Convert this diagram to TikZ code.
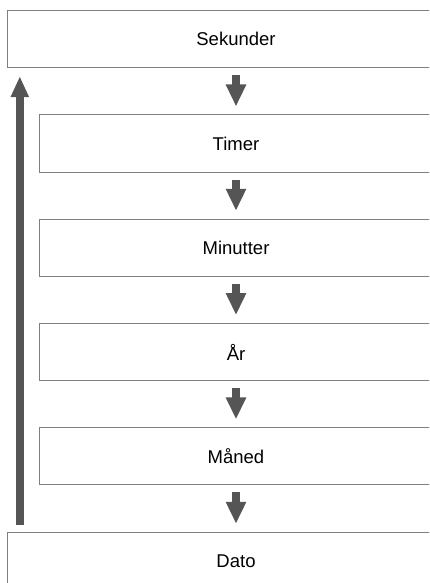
\documentclass[tikz,border=0pt]{standalone}
\usepackage{fontspec}
\setmainfont{Liberation Sans}
\usetikzlibrary{arrows.meta}

\definecolor{boxgray}{HTML}{7F7F7F}
\definecolor{arrowgray}{HTML}{555555}

\begin{document}
\begin{tikzpicture}[x=1pt,y=-1pt,
    outerbox/.style={draw=boxgray,line width=1pt,minimum width=458pt,minimum height=57pt,inner sep=0pt,font=\fontsize{18.5}{22}\selectfont},
    innerbox/.style={outerbox,minimum width=394pt},
    downarrow/.style={draw=arrowgray,line width=8.5pt,-{Triangle[length=22pt,width=19pt]},shorten <=7pt,shorten >=8pt},
    uparrow/.style={draw=arrowgray,line width=8pt,-{Triangle[length=21pt,width=17pt]},shorten <=7pt,shorten >=8pt}]
                \useasboundingbox (0,0) rectangle (429,583);
                \clip (0,0) rectangle (429,583);

                \node (sek) at (236,39.2) [outerbox] {Sekunder};
                \node (tim) at (236,143.5) [innerbox] {Timer};
                \node (min) at (236,247.8) [innerbox] {Minutter};
                \node (aar) at (236,352.1) [innerbox] {År};
                \node (mnd) at (236,456.4) [innerbox] {Måned};
                \node (dat) at (236,560.8) [outerbox] {Dato};

                \draw[downarrow] (sek.south) -- (tim.north);
                \draw[downarrow] (tim.south) -- (min.north);
                \draw[downarrow] (min.south) -- (aar.north);
                \draw[downarrow] (aar.south) -- (mnd.north);
                \draw[downarrow] (mnd.south) -- (dat.north);

                \coordinate (back) at (19.8,0);
                \draw[uparrow] (dat.north -| back) -- (sek.south -| back);

            \end{tikzpicture}
\end{document}
